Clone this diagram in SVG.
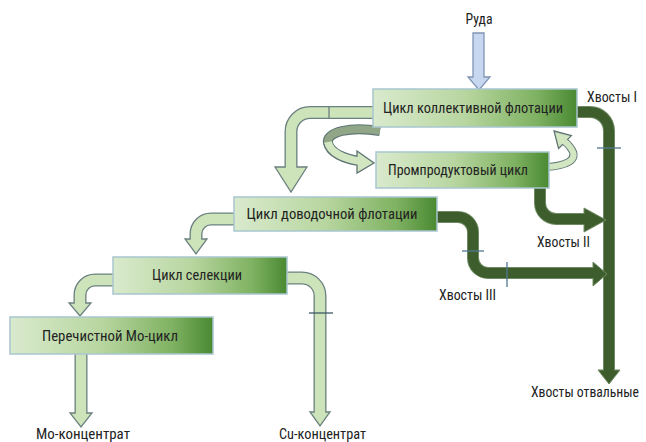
<svg xmlns="http://www.w3.org/2000/svg" width="646" height="442" viewBox="0 0 646 442">
<defs>
<linearGradient id="g" x1="0" y1="0" x2="1" y2="0">
<stop offset="0" stop-color="#d9eacd"/>
<stop offset="0.45" stop-color="#b8d6a0"/>
<stop offset="0.8" stop-color="#7fb262"/>
<stop offset="1" stop-color="#4a8932"/>
</linearGradient>
</defs>
<style>
.box{fill:url(#g);stroke:#a9c6d0;stroke-width:1.5}
.t{font-family:"Roboto Condensed","Liberation Sans Narrow","DejaVu Sans Condensed","Liberation Sans",sans-serif;font-size:15px;fill:#222}
.lo{fill:none;stroke:#6b8080;stroke-width:13}
.lf{fill:none;stroke:#cde3b9;stroke-width:10.4}
.lh{fill:#cde3b9;stroke:#6b8080;stroke-width:1.3;stroke-linejoin:miter}
.do{fill:none;stroke:#6f8a63;stroke-width:12}
.df{fill:none;stroke:#3e5d2c;stroke-width:10}
.dh{fill:#3e5d2c;stroke:#6f8a63;stroke-width:1}
.tick{stroke:#4f7894;stroke-width:1.3}
.ro{fill:none;stroke:#5f7575;stroke-width:10}
.rb{fill:none;stroke:#90a687;stroke-width:7.6}
.rf{fill:none;stroke:#d2e6c1;stroke-width:7.6}
</style>
<g id="connectors">
<polygon points="473,33 484,33 484,77 490,77 479,90 468,77 473,77" fill="#c7d7ef" stroke="#7f95b3" stroke-width="1.3"/>
<path class="lo" d="M380 112.5 H310 A19 19 0 0 0 291 131.5 V169"/>
<polygon class="lh" points="275,167 307,167 291,192"/>
<path class="lf" d="M380 112.5 H310 A19 19 0 0 0 291 131.5 V169"/>
<line x1="329" y1="106" x2="329" y2="119" stroke="#6b8080" stroke-width="1.3"/>
<path class="lo" d="M240 219 H211 A15 15 0 0 0 196 234 V241"/>
<polygon class="lh" points="185,239 207,239 196,254"/>
<path class="lf" d="M240 219 H211 A15 15 0 0 0 196 234 V241"/>
<path class="lo" d="M120 280 H95 A15 15 0 0 0 80 295 V305"/>
<polygon class="lh" points="69,303 91,303 80,316"/>
<path class="lf" d="M120 280 H95 A15 15 0 0 0 80 295 V305"/>
<path class="lo" d="M280 278 H302 A18 18 0 0 1 320 296 V414"/>
<polygon class="lh" points="310,412 330,412 320,426"/>
<path class="lf" d="M280 278 H302 A18 18 0 0 1 320 296 V414"/>
<line x1="309" y1="313" x2="333" y2="313" stroke="#3f5a66" stroke-width="1.3"/>
<path class="lo" d="M81 350 V415"/>
<polygon class="lh" points="70,413 92,413 81,427"/>
<path class="lf" d="M81 350 V415"/>
<path class="ro" d="M380 131 C350 126 326 132 328 143"/>
<path class="ro" d="M328 143 C330 153 345 159 359 161"/>
<polygon points="357,151 357,173 374,163" fill="#d2e6c1" stroke="#5f7575" stroke-width="1.3"/>
<path class="rb" d="M380 131 C350 126 326 132 328 143"/>
<path class="rf" d="M328 142 C330 153 345 159 360 161.3"/>
<path fill="none" stroke="#5f7575" stroke-width="8" d="M546 167 C566 166 578 160 572 150 C569 145 566 142 562 140"/>
<polygon points="571.4,135.6 558.6,148.4 554,131" fill="#d2e6c1" stroke="#5f7575" stroke-width="1.3"/>
<path fill="none" stroke="#d2e6c1" stroke-width="6" d="M546 167 C566 166 578 160 572 150 C569 145 566 142 562 140"/>
<path class="do" d="M570 112 H590 A19 19 0 0 1 609 131 V372"/>
<polygon class="dh" points="598,370 620,370 609,384"/>
<path class="df" d="M570 112 H590 A19 19 0 0 1 609 131 V372"/>
<line class="tick" x1="597" y1="148" x2="621" y2="148"/>
<path class="do" d="M540 182 V203 A16 16 0 0 0 556 219 H586"/>
<polygon class="dh" points="584,208 584,232 606,220"/>
<path class="df" d="M540 182 V203 A16 16 0 0 0 556 219 H586"/>
<path class="do" d="M430 217 H458 A15 15 0 0 1 473 232 V258 A15 15 0 0 0 488 273 H595"/>
<polygon class="dh" points="593,262 593,286 607,274"/>
<path class="df" d="M430 217 H458 A15 15 0 0 1 473 232 V258 A15 15 0 0 0 488 273 H595"/>
<line class="tick" x1="462" y1="251" x2="484" y2="251"/>
<line class="tick" x1="507" y1="262" x2="507" y2="287"/>
</g>
<g id="n1"><rect class="box" x="373" y="89" width="204" height="38"/><text class="t" x="473" y="113" text-anchor="middle" textLength="180" lengthAdjust="spacingAndGlyphs">Цикл коллективной флотации</text></g>
<g id="n2"><rect class="box" x="376" y="152" width="173" height="36"/><text class="t" x="458" y="175" text-anchor="middle" textLength="140" lengthAdjust="spacingAndGlyphs">Промпродуктовый цикл</text></g>
<g id="n3"><rect class="box" x="234" y="197" width="203" height="34"/><text class="t" x="332" y="219" text-anchor="middle" textLength="171" lengthAdjust="spacingAndGlyphs">Цикл доводочной флотации</text></g>
<g id="n4"><rect class="box" x="113" y="257" width="174" height="37"/><text class="t" x="197" y="280" text-anchor="middle" textLength="90" lengthAdjust="spacingAndGlyphs">Цикл селекции</text></g>
<g id="n5"><rect class="box" x="10" y="317" width="203" height="37"/><text class="t" x="110" y="341" text-anchor="middle" textLength="136" lengthAdjust="spacingAndGlyphs">Перечистной Мо-цикл</text></g>
<g id="labels">
<text class="t" x="479" y="24" text-anchor="middle" textLength="27" lengthAdjust="spacingAndGlyphs">Руда</text>
<text class="t" x="587" y="102" textLength="50" lengthAdjust="spacingAndGlyphs">Хвосты I</text>
<text class="t" x="537" y="247" textLength="53" lengthAdjust="spacingAndGlyphs">Хвосты II</text>
<text class="t" x="439" y="300" textLength="57" lengthAdjust="spacingAndGlyphs">Хвосты III</text>
<text class="t" x="531" y="397" style="font-size:14px" textLength="108" lengthAdjust="spacingAndGlyphs">Хвосты отвальные</text>
<text class="t" x="36" y="439" textLength="94" lengthAdjust="spacingAndGlyphs">Мо-концентрат</text>
<text class="t" x="279" y="439" textLength="87" lengthAdjust="spacingAndGlyphs">Cu-концентрат</text>
</g>
</svg>
